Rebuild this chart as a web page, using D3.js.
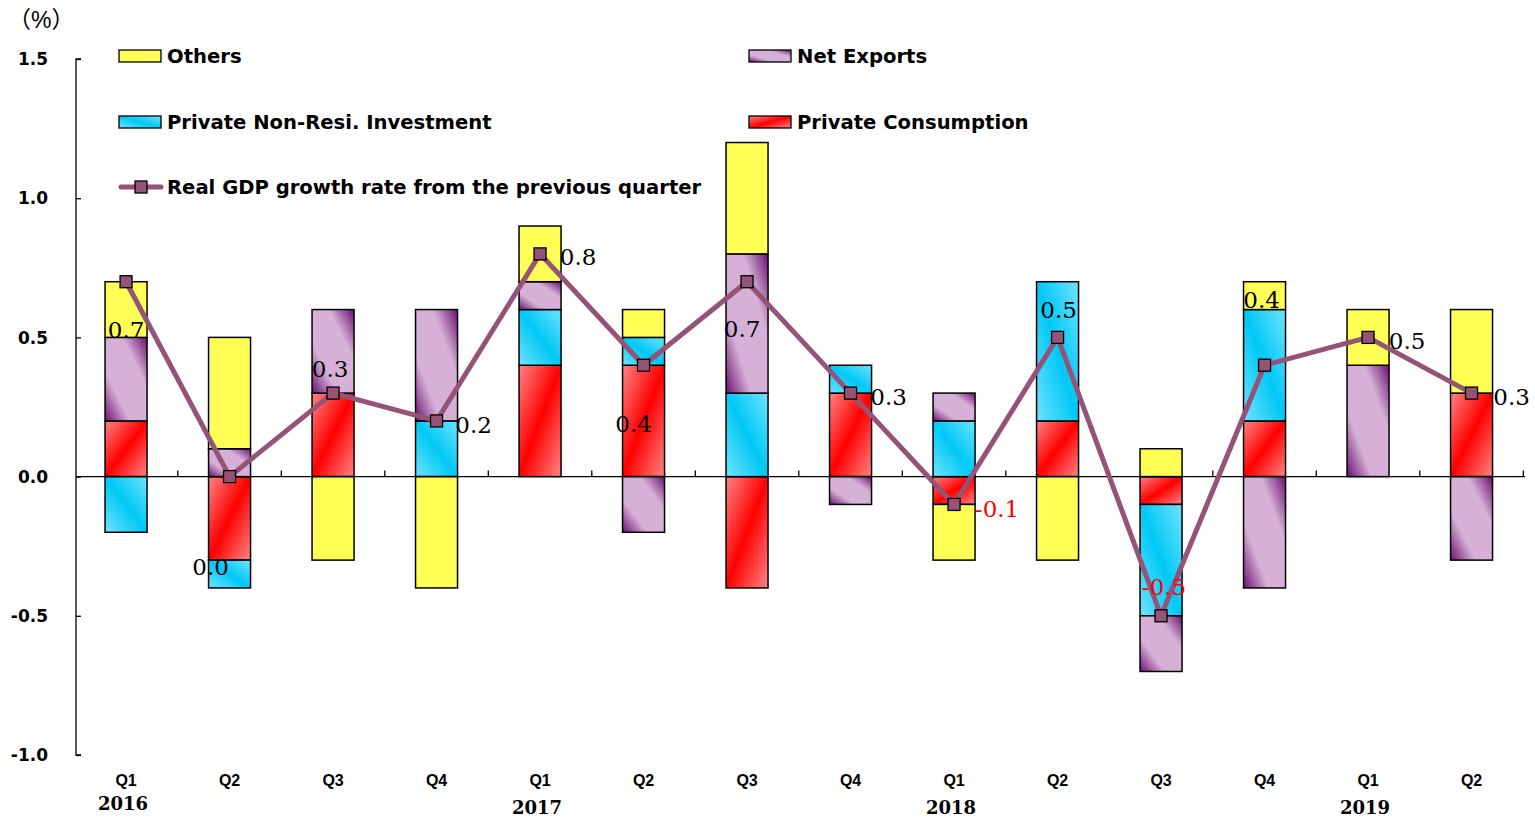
<!DOCTYPE html>
<html>
<head>
<meta charset="utf-8">
<script src="https://cdn.jsdelivr.net/npm/d3@7"></script>
<style>
  body { margin: 0; background: #fff; }
  svg { display: block; }
</style>
</head>
<body>
<svg id="chart" width="1535" height="819"></svg>
<script>
// quarters and years
var quarters = ["Q1","Q2","Q3","Q4","Q1","Q2","Q3","Q4","Q1","Q2","Q3","Q4","Q1","Q2"];
var years = ["2016","","","","2017","","","","2018","","","","2019",""];

// contributions (% points)
var privateConsumption = [0.2,-0.3,0.3,0.0,0.4,0.4,-0.4,0.3,-0.1,0.2,-0.1,0.2,0.0,0.3];
var privateInvestment  = [-0.2,-0.1,0.0,0.2,0.2,0.1,0.3,0.1,0.2,0.5,-0.4,0.4,0.0,0.0];
var netExports         = [0.3,0.1,0.3,0.4,0.1,-0.2,0.5,-0.1,0.1,0.0,-0.2,-0.4,0.4,-0.3];
var others             = [0.2,0.4,-0.3,-0.4,0.2,0.1,0.4,0.0,-0.2,-0.3,0.1,0.1,0.2,0.3];
var gdpGrowth          = [0.7,0.0,0.3,0.2,0.8,0.4,0.7,0.3,-0.1,0.5,-0.5,0.4,0.5,0.3];

var yTicks = [-1.0,-0.5,0.0,0.5,1.0,1.5];

// label offsets from each point (styling only)
var labelOffsets = [[0,48],[-19,90],[-3,-24],[37,4],[38,3],[-10,58],[-5,47],[38,4],[43,4],[1,-28],[3,-29],[-3,-66],[39,3],[40,4]];

var svg = d3.select("#chart");
var lineColor = "#955377";
var fmt = function(v){ return d3.format(".1f")(v).replace("\u2212", "-"); };

// gradients
var defs = svg.append("defs");
function grad(id, x1, y1, x2, y2, stops){
  var g = defs.append("linearGradient").attr("id", id)
    .attr("x1", x1).attr("y1", y1).attr("x2", x2).attr("y2", y2);
  stops.forEach(function(s){
    g.append("stop").attr("offset", s[0]).attr("stop-color", s[1]);
  });
}
grad("gRed", 0, 0, 1, 1, [[0,"#ff8484"],[0.5,"#ff0000"],[1,"#ff8484"]]);
grad("gBlue", 0, 1, 1, 0, [[0,"#6fe3ff"],[0.5,"#00c8f5"],[1,"#6fe3ff"]]);
grad("gPurple", 0, 1, 1, 0, [[0,"#6a1070"],[0.3,"#d6b0d6"],[0.7,"#d6b0d6"],[1,"#6a1070"]]);
grad("gYellow", 0, 0, 1, 1, [[0,"#ffff55"],[1,"#ffff55"]]);

var series = [
  {key: "cons", name: "Private Consumption", fill: "url(#gRed)", values: privateConsumption},
  {key: "inv", name: "Private Non-Resi. Investment", fill: "url(#gBlue)", values: privateInvestment},
  {key: "net", name: "Net Exports", fill: "url(#gPurple)", values: netExports},
  {key: "oth", name: "Others", fill: "url(#gYellow)", values: others}
];

var rows = quarters.map(function(q, i){
  var r = {i: i};
  series.forEach(function(s){ r[s.key] = s.values[i]; });
  return r;
});

var x = d3.scaleBand().domain(d3.range(quarters.length)).range([74.3, 1523.3]);
var y = d3.scaleLinear().domain([-1, 1.5]).range([755, 59]);
var barW = 42;

var stack = d3.stack()
  .keys(series.map(function(s){ return s.key; }))
  .offset(d3.stackOffsetDiverging);
var stacked = stack(rows);

// bars
stacked.forEach(function(layer, k){
  svg.append("g").selectAll("rect")
    .data(layer.filter(function(d){ return d[1] - d[0] !== 0; }))
    .enter().append("rect")
    .attr("x", function(d){ return x(d.data.i) + x.bandwidth()/2 - barW/2; })
    .attr("y", function(d){ return y(d[1]); })
    .attr("width", barW)
    .attr("height", function(d){ return y(d[0]) - y(d[1]); })
    .attr("fill", series[k].fill)
    .attr("stroke", "#000")
    .attr("stroke-width", 1.5);
});

// y axis
var yAxis = svg.append("g")
  .attr("transform", "translate(76,0)")
  .call(d3.axisRight(y).tickValues(yTicks).tickSize(5).tickFormat(""));
yAxis.select(".domain").attr("d", "M5," + y(1.5) + "H0V" + y(-1) + "H5");
yAxis.selectAll("line, path").attr("stroke", "#000").attr("stroke-width", 1.3);

svg.append("g").selectAll("text")
  .data(yTicks).enter().append("text")
  .attr("x", 48).attr("y", function(d){ return y(d); })
  .attr("dy", "0.36em")
  .attr("text-anchor", "end")
  .style("font", "bold 17px 'DejaVu Sans', sans-serif")
  .text(fmt);

// x axis at zero
var xEdges = d3.range(1, quarters.length + 1).map(function(i){ return x.range()[0] + i * x.step(); });
var xAxis = svg.append("g");
xAxis.append("line")
  .attr("x1", 76).attr("x2", 1525)
  .attr("y1", y(0)).attr("y2", y(0))
  .attr("stroke", "#000").attr("stroke-width", 1.3);
xAxis.selectAll(".tk").data(xEdges).enter().append("line")
  .attr("x1", function(d){ return d; }).attr("x2", function(d){ return d; })
  .attr("y1", y(0)).attr("y2", y(0) - 6)
  .attr("stroke", "#000").attr("stroke-width", 1.3);

svg.append("g").selectAll("text")
  .data(quarters).enter().append("text")
  .attr("x", function(d, i){ return x(i) + x.bandwidth()/2; })
  .attr("y", 786)
  .attr("text-anchor", "middle")
  .style("font", "bold 16px 'Liberation Sans', Arial, sans-serif")
  .text(function(d){ return d; });

svg.append("g").selectAll("text")
  .data(years).enter().append("text")
  .attr("x", function(d, i){ return x(i) + x.bandwidth()/2 - 3; })
  .attr("y", function(d, i){ return i === 0 ? 810 : 814; })
  .attr("text-anchor", "middle")
  .style("font", "bold 18px 'DejaVu Serif', serif")
  .text(function(d){ return d; });

svg.append("text")
  .attr("x", 8).attr("y", 28)
  .style("font", "23px 'Liberation Sans', 'Noto Sans CJK JP', sans-serif")
  .text("（%）");

// GDP line
var cx = function(i){ return x(i) + x.bandwidth()/2; };
var line = d3.line()
  .x(function(d, i){ return cx(i); })
  .y(function(d){ return y(d); });
svg.append("path")
  .datum(gdpGrowth)
  .attr("d", line)
  .attr("fill", "none")
  .attr("stroke", lineColor)
  .attr("stroke-width", 5)
  .attr("stroke-linejoin", "round");
svg.append("g").selectAll("rect")
  .data(gdpGrowth).enter().append("rect")
  .attr("x", function(d, i){ return cx(i) - 6; })
  .attr("y", function(d){ return y(d) - 6; })
  .attr("width", 12).attr("height", 12)
  .attr("fill", lineColor)
  .attr("stroke", "#000").attr("stroke-width", 1.3);

// data labels
svg.append("g").selectAll("text")
  .data(gdpGrowth).enter().append("text")
  .attr("x", function(d, i){ return cx(i) + labelOffsets[i][0]; })
  .attr("y", function(d, i){ return y(d) + labelOffsets[i][1]; })
  .attr("dy", "0.36em")
  .attr("text-anchor", "middle")
  .attr("fill", function(d){ return d < 0 ? "#ff0000" : "#000"; })
  .style("font", "23px 'DejaVu Serif', serif")
  .text(fmt);

// legend
var legendItems = [
  {name: "Others", fill: "url(#gYellow)", x: 119, y: 56},
  {name: "Net Exports", fill: "url(#gPurple)", x: 749, y: 56},
  {name: "Private Non-Resi. Investment", fill: "url(#gBlue)", x: 119, y: 122},
  {name: "Private Consumption", fill: "url(#gRed)", x: 749, y: 122}
];
var legendFont = "bold 19.6px 'DejaVu Sans', sans-serif";
var lg = svg.append("g");
legendItems.forEach(function(d){
  lg.append("rect")
    .attr("x", d.x).attr("y", d.y - 6)
    .attr("width", 42).attr("height", 12)
    .attr("fill", d.fill).attr("stroke", "#000").attr("stroke-width", 1.3);
  lg.append("text")
    .attr("x", d.x + 48).attr("y", d.y)
    .attr("dy", "0.36em")
    .style("font", legendFont)
    .text(d.name);
});
lg.append("line")
  .attr("x1", 121).attr("x2", 161).attr("y1", 187).attr("y2", 187)
  .attr("stroke", lineColor).attr("stroke-width", 5).attr("stroke-linecap", "round");
lg.append("rect")
  .attr("x", 135).attr("y", 181).attr("width", 12).attr("height", 12)
  .attr("fill", lineColor).attr("stroke", "#000").attr("stroke-width", 1.3);
lg.append("text")
  .attr("x", 167).attr("y", 187).attr("dy", "0.36em")
  .style("font", legendFont)
  .text("Real GDP growth rate from the previous quarter");
</script>
</body>
</html>
